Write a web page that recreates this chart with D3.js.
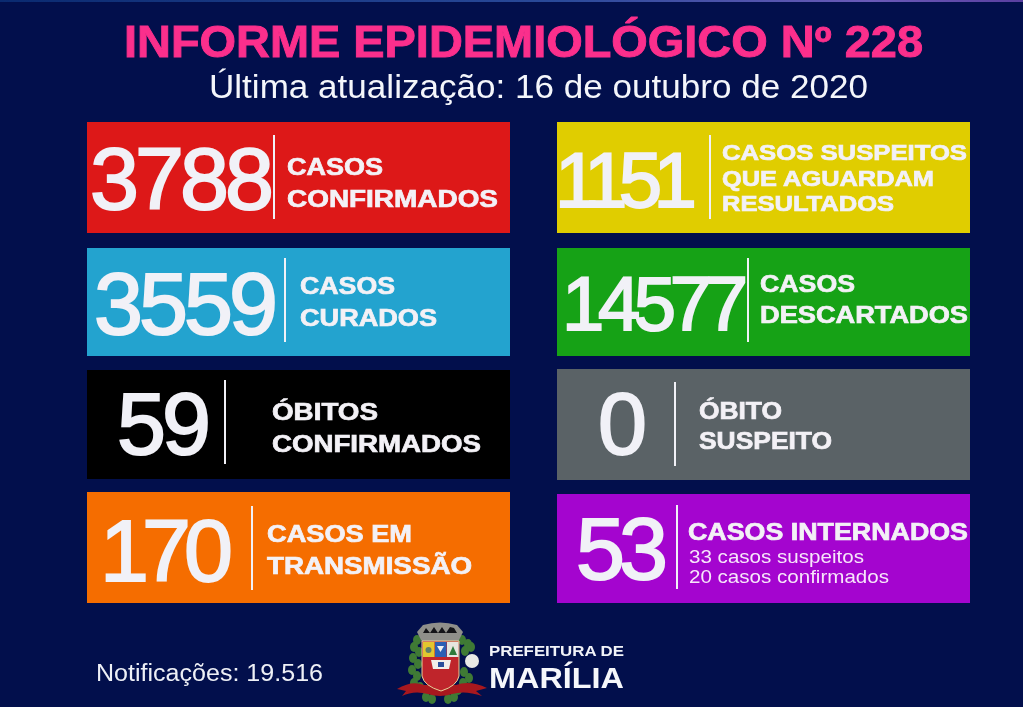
<!DOCTYPE html>
<html>
<head>
<meta charset="utf-8">
<script src="https://cdn.jsdelivr.net/npm/d3@7"></script>
<style>
  html, body { margin: 0; padding: 0; background: #020f4c; overflow: hidden; }
  svg { display: block; filter: blur(0.5px); }
</style>
</head>
<body>
<script>
var w = 1023;
var h = 707;

// data
var title = "INFORME EPIDEMIOLÓGICO Nº 228";
var subtitle = "Última atualização: 16 de outubro de 2020";
var cardValues = [3788, 1151, 3559, 14577, 59, 0, 170, 53];
var cardLabels = [
  ["CASOS", "CONFIRMADOS"],
  ["CASOS SUSPEITOS", "QUE AGUARDAM", "RESULTADOS"],
  ["CASOS", "CURADOS"],
  ["CASOS", "DESCARTADOS"],
  ["ÓBITOS", "CONFIRMADOS"],
  ["ÓBITO", "SUSPEITO"],
  ["CASOS EM", "TRANSMISSÃO"],
  ["CASOS INTERNADOS"]
];
var cardNotes = [[], [], [], [], [], [], [], ["33 casos suspeitos", "20 casos confirmados"]];
var notifications = "Notificações: 19.516";
var logoLines = ["PREFEITURA DE", "MARÍLIA"];

// layout, one row per card
var cardColors = ["#dd1818", "#e0cd00", "#23a3cf", "#16a216", "#000000", "#5a6266", "#f56d00", "#a405cf"];
var layout = [
  {x: 87,  y: 122, w: 423, h: 111, numX: 90,  numW: 184, numFs: 88, numY: 209, div: 274, divY: 135, textX: 287, ys: [175, 207], ws: [96, 211], fs: 23},
  {x: 557, y: 122, w: 413, h: 111, numX: 555, numW: 142, numFs: 78, numY: 207, div: 710, divY: 135, textX: 722, ys: [160, 186, 211], ws: [245, 212, 172], fs: 22},
  {x: 87,  y: 248, w: 423, h: 108, numX: 94,  numW: 184, numFs: 88, numY: 334, div: 285, divY: 258, textX: 300, ys: [294, 326], ws: [95, 137], fs: 23},
  {x: 557, y: 248, w: 413, h: 108, numX: 562, numW: 186, numFs: 76, numY: 330, div: 748, divY: 258, textX: 760, ys: [292, 323], ws: [95, 208], fs: 23},
  {x: 87,  y: 370, w: 423, h: 109, numX: 117, numW: 94,  numFs: 88, numY: 454, div: 225, divY: 380, textX: 272, ys: [420, 452], ws: [106, 209], fs: 23},
  {x: 557, y: 369, w: 413, h: 111, numX: 598, numW: 49,  numFs: 88, numY: 454, div: 675, divY: 382, textX: 699, ys: [419, 449], ws: [83, 133], fs: 23},
  {x: 87,  y: 492, w: 423, h: 111, numX: 100, numW: 133, numFs: 88, numY: 581, div: 252, divY: 506, textX: 267, ys: [542, 574], ws: [145, 205], fs: 23},
  {x: 557, y: 494, w: 413, h: 109, numX: 576, numW: 92,  numFs: 88, numY: 579, div: 677, divY: 505, textX: 688, ys: [540], ws: [280], fs: 23, noteYs: [562.5, 582.5], noteWs: [175, 200]}
];

var cards = cardValues.map(function(v, i) {
  return {value: v, labels: cardLabels[i], notes: cardNotes[i], color: cardColors[i], l: layout[i]};
});

var svg = d3.select("body")
            .append("svg")
            .attr("width", w)
            .attr("height", h);

var defs = svg.append("defs");
var strip = defs.append("linearGradient").attr("id", "strip");
strip.append("stop").attr("offset", "0%").attr("stop-color", "#0a2a70");
strip.append("stop").attr("offset", "55%").attr("stop-color", "#2a4a9a");
strip.append("stop").attr("offset", "85%").attr("stop-color", "#6a5ab8");
strip.append("stop").attr("offset", "100%").attr("stop-color", "#5a3fa0");

svg.append("rect").attr("width", w).attr("height", h).attr("fill", "#020f4c");
svg.append("rect").attr("width", w).attr("height", 2).attr("fill", "url(#strip)");

var sans = "'Liberation Sans', Arial, sans-serif";

svg.append("text")
  .text(title)
  .attr("x", 124).attr("y", 57)
  .attr("textLength", 799).attr("lengthAdjust", "spacingAndGlyphs")
  .attr("font-family", sans).attr("font-weight", "bold").attr("font-size", 44)
  .attr("fill", "#fb2f8c").attr("stroke", "#fb2f8c").attr("stroke-width", 0.9);

svg.append("text")
  .text(subtitle)
  .attr("x", 209).attr("y", 98)
  .attr("textLength", 659).attr("lengthAdjust", "spacingAndGlyphs")
  .attr("font-family", sans).attr("font-size", 34)
  .attr("fill", "#f4f6fb");

var card = svg.selectAll("g.card")
  .data(cards)
  .enter()
  .append("g")
  .attr("class", "card");

card.append("rect")
  .attr("x", function(d) { return d.l.x; })
  .attr("y", function(d) { return d.l.y; })
  .attr("width", function(d) { return d.l.w; })
  .attr("height", function(d) { return d.l.h; })
  .attr("fill", function(d) { return d.color; });

card.append("text")
  .text(function(d) { return d.value; })
  .attr("x", function(d) { return d.l.numX; })
  .attr("y", function(d) { return d.l.numY; })
  .attr("textLength", function(d) { return d.l.numW; })
  .attr("lengthAdjust", "spacing")
  .attr("font-family", sans)
  .attr("font-size", function(d) { return d.l.numFs; })
  .attr("fill", "#f1f1f7").attr("stroke", "#f1f1f7").attr("stroke-width", 2);

card.append("line")
  .attr("x1", function(d) { return d.l.div; })
  .attr("x2", function(d) { return d.l.div; })
  .attr("y1", function(d) { return d.l.divY; })
  .attr("y2", function(d) { return d.l.divY + 84; })
  .attr("stroke", "#f1f1f7").attr("stroke-width", 2);

card.selectAll("text.label")
  .data(function(d) {
    return d.labels.map(function(t, i) { return {t: t, x: d.l.textX, y: d.l.ys[i], w: d.l.ws[i], fs: d.l.fs}; });
  })
  .enter()
  .append("text")
  .attr("class", "label")
  .text(function(d) { return d.t; })
  .attr("x", function(d) { return d.x; })
  .attr("y", function(d) { return d.y; })
  .attr("textLength", function(d) { return d.w; })
  .attr("lengthAdjust", "spacingAndGlyphs")
  .attr("font-family", sans).attr("font-weight", "bold")
  .attr("font-size", function(d) { return d.fs; })
  .attr("fill", "#f3f1f6").attr("stroke", "#f3f1f6").attr("stroke-width", 0.7);

card.selectAll("text.note")
  .data(function(d) {
    return d.notes.map(function(t, i) { return {t: t, x: d.l.textX + 1, y: d.l.noteYs[i], w: d.l.noteWs[i]}; });
  })
  .enter()
  .append("text")
  .attr("class", "note")
  .text(function(d) { return d.t; })
  .attr("x", function(d) { return d.x; })
  .attr("y", function(d) { return d.y; })
  .attr("textLength", function(d) { return d.w; })
  .attr("lengthAdjust", "spacingAndGlyphs")
  .attr("font-family", sans).attr("font-size", 17.8)
  .attr("fill", "#f7e6fa");

svg.append("text")
  .text(notifications)
  .attr("x", 96).attr("y", 681)
  .attr("textLength", 227).attr("lengthAdjust", "spacingAndGlyphs")
  .attr("font-family", sans).attr("font-size", 23)
  .attr("fill", "#eef0f6");

// crest, drawn by hand as a rough copy of the city arms
var crest = svg.append("g").attr("class", "crest");

// laurel leaves either side of the shield
var leaves = [[417,640],[414,647],[419,652],[413,658],[418,664],[412,670],[417,676],[414,683],[420,687],
              [462,640],[468,644],[465,651],[471,647],[464,672],[469,678],[463,683],[458,690],
              [426,697],[432,699],[448,699],[454,697]];
crest.selectAll("ellipse.leaf")
  .data(leaves)
  .enter()
  .append("ellipse")
  .attr("class", "leaf")
  .attr("cx", function(d) { return d[0]; })
  .attr("cy", function(d) { return d[1]; })
  .attr("rx", 4)
  .attr("ry", 5)
  .attr("fill", "#3f7a35");

// cotton
crest.append("circle").attr("cx", 472).attr("cy", 661).attr("r", 7).attr("fill", "#e9e9e6");

// ribbon
crest.append("path").attr("d", "M397 689 Q412 680 424 685 L456 685 Q470 680 487 688 L476 691 L482 696 Q465 690 452 694 Q440 698 428 694 Q414 690 402 696 L406 691 Z").attr("fill", "#a8181e");

// crown
crest.append("path").attr("d", "M417 632 L423 625 Q440 620 457 625 L463 632 L458 642 L422 642 Z").attr("fill", "#8f8f8a");
crest.append("path").attr("d", "M423 633 L426 628 L430 633 L434 627 L438 633 L442 627 L446 633 L450 627 L454 628 L457 633 Z").attr("fill", "#141418");

// shield
crest.append("path").attr("d", "M422 641 L459 641 L459 676 Q457 686 441 691 Q424 686 422 676 Z").attr("fill", "#bf252b").attr("stroke", "#e6d39a").attr("stroke-width", 1);
crest.append("rect").attr("x", 423).attr("y", 642).attr("width", 11.5).attr("height", 15).attr("fill", "#e2c62f");
crest.append("rect").attr("x", 435).attr("y", 642).attr("width", 11.5).attr("height", 15).attr("fill", "#2c5fb5");
crest.append("rect").attr("x", 447).attr("y", 642).attr("width", 11.5).attr("height", 15).attr("fill", "#e6e6de");
crest.append("path").attr("d", "M437 646 L444 646 L440.5 652 Z").attr("fill", "#f2f2f2");
crest.append("path").attr("d", "M449 655 L453 646 L457 655 Z").attr("fill", "#2f7a3a");
crest.append("circle").attr("cx", 428.5).attr("cy", 650).attr("r", 3).attr("fill", "#5f7f6a");
crest.append("path").attr("d", "M431 660 L451 660 L449 669 L433 669 Z").attr("fill", "#f1efe9");
crest.append("rect").attr("x", 438).attr("y", 662).attr("width", 6).attr("height", 5).attr("fill", "#2a4f9a");

svg.append("text")
  .text(logoLines[0])
  .attr("x", 489).attr("y", 656)
  .attr("textLength", 135).attr("lengthAdjust", "spacingAndGlyphs")
  .attr("font-family", sans).attr("font-weight", "bold").attr("font-size", 15)
  .attr("fill", "#f1f3f8");

svg.append("text")
  .text(logoLines[1])
  .attr("x", 489).attr("y", 688)
  .attr("textLength", 135).attr("lengthAdjust", "spacingAndGlyphs")
  .attr("font-family", sans).attr("font-weight", "bold").attr("font-size", 29)
  .attr("fill", "#f6f7fb");
</script>
</body>
</html>
